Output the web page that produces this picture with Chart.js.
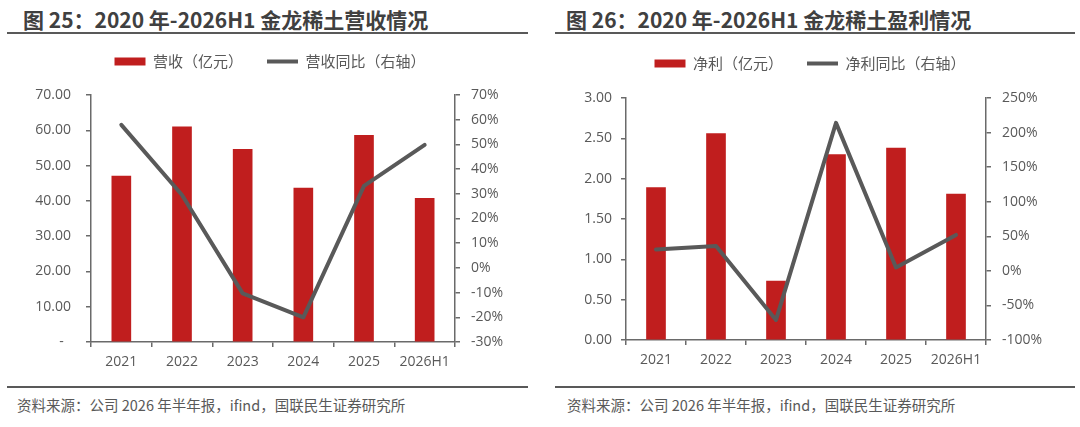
<!DOCTYPE html>
<html>
<head>
<meta charset="utf-8">
<script src="https://cdn.jsdelivr.net/npm/chart.js@4.4.1/dist/chart.umd.min.js"></script>
<style>
  html, body { margin: 0; padding: 0; background: #fff; }
  body { width: 1080px; height: 427px; position: relative; overflow: hidden; font-family: "Noto Sans CJK SC", sans-serif; }
  .title { position: absolute; top: 8px; line-height: 22px; font-size: 21px; font-weight: bold; color: #404040; white-space: nowrap; }
  .rule { position: absolute; height: 2px; background: #595959; }
  .foot { position: absolute; top: 395px; line-height: 20px; font-size: 14.5px; color: #595959; white-space: nowrap; }
  .wrap { position: absolute; }
  canvas { display: block; }
</style>
</head>
<body>
<div class="title" style="left:23px">图 25：2020 年-2026H1 金龙稀土营收情况</div>
<div class="rule" style="left:7px;width:521px;top:32px"></div>
<div class="title" style="left:566px">图 26：2020 年-2026H1 金龙稀土盈利情况</div>
<div class="rule" style="left:555px;width:520px;top:32px"></div>

<div class="wrap" style="left:0;top:30px;width:540px;height:342px"><canvas id="c1" width="540" height="342"></canvas></div>
<div class="wrap" style="left:540px;top:32px;width:540px;height:338px"><canvas id="c2" width="540" height="338"></canvas></div>

<div class="rule" style="left:7px;width:521px;top:386px"></div>
<div class="rule" style="left:555px;width:520px;top:386px"></div>
<div class="foot" style="left:17px">资料来源：公司 2026 年半年报，ifind，国联民生证券研究所</div>
<div class="foot" style="left:567px">资料来源：公司 2026 年半年报，ifind，国联民生证券研究所</div>

<script>
// ---- data ----
const categories = ['2021', '2022', '2023', '2024', '2025', '2026H1'];
const revenue = [47.0, 61.0, 54.6, 43.6, 58.6, 40.7];          // 营收（亿元）
const revenueYoY = [57.9, 29.5, -10.3, -20.0, 33.2, 49.8];     // 营收同比（%）
const profit = [1.89, 2.56, 0.73, 2.30, 2.38, 1.81];           // 净利（亿元）
const profitYoY = [31.0, 36.0, -71.0, 214.0, 5.0, 52.0];       // 净利同比（%）
const seriesNames1 = ['营收（亿元）', '营收同比（右轴）'];
const seriesNames2 = ['净利（亿元）', '净利同比（右轴）'];

const RED = '#C01E1E';
const GRAY = '#595959';
const AXIS = '#6a6a6a';
const TICKFONT = { family: '"Open Sans", "Noto Sans CJK SC", sans-serif', size: 14 };

const fixLegend = {
  id: 'fixLegend',
  beforeLayout(chart, args, opts) {
    const lg = chart.legend;
    if (lg && !lg._patched) {
      const orig = lg.fit;
      lg.fit = function () { orig.call(this); this.height = opts.h; };
      lg._patched = true;
    }
  }
};

function makeChart(id, names, bars, line, cfg) {
  return new Chart(document.getElementById(id), {
    data: {
      labels: categories,
      datasets: [
        { type: 'line', label: names[1], data: line, yAxisID: 'y1', borderColor: GRAY, backgroundColor: GRAY,
          borderWidth: 4, pointRadius: 0, pointHoverRadius: 0, tension: 0, borderCapStyle: 'round', borderJoinStyle: 'round', order: 0 },
        { type: 'bar', label: names[0], data: bars, yAxisID: 'y', backgroundColor: RED, borderWidth: 0,
          barThickness: 19, order: 1 }
      ]
    },
    options: {
      responsive: false,
      animation: false,
      layout: { padding: 0 },
      plugins: {
        fixLegend: { h: cfg.legendH },
        tooltip: { enabled: false },
        legend: {
          position: 'top',
          reverse: true,
          labels: {
            usePointStyle: true,
            pointStyleWidth: 31,
            boxHeight: 8,
            padding: 24,
            color: GRAY,
            font: { family: '"Noto Sans CJK SC", sans-serif', size: 15 },
            generateLabels(chart) {
              const items = Chart.defaults.plugins.legend.labels.generateLabels(chart);
              items.forEach(it => {
                const ds = chart.data.datasets[it.datasetIndex];
                if (ds.type === 'bar') { it.pointStyle = 'rect'; it.lineWidth = 0; it.fillStyle = RED; it.strokeStyle = RED; }
                else { it.pointStyle = 'line'; it.lineWidth = 4; it.strokeStyle = GRAY; }
              });
              return items;
            }
          }
        }
      },
      scales: {
        x: {
          offset: true,
          grid: { display: true, offset: true, drawOnChartArea: false, drawTicks: true, tickLength: 5, color: AXIS, lineWidth: 1.5 },
          border: { display: true, color: AXIS, width: 1.5 },
          ticks: { color: GRAY, font: TICKFONT, padding: 7, maxRotation: 0, autoSkip: false },
          afterFit(s) { s.height = 30; }
        },
        y: {
          position: 'left',
          min: cfg.yMin, max: cfg.yMax,
          grid: { display: true, drawOnChartArea: false, drawTicks: true, tickLength: 5, color: AXIS, lineWidth: 1.5 },
          border: { display: true, color: AXIS, width: 1.5 },
          ticks: { stepSize: cfg.yStep, color: GRAY, font: TICKFONT, padding: cfg.yPad, callback: cfg.yFmt },
          afterFit(s) { s.width = cfg.yW; }
        },
        y1: {
          position: 'right',
          min: cfg.y1Min, max: cfg.y1Max,
          grid: { display: true, drawOnChartArea: false, drawTicks: true, tickLength: 5, color: AXIS, lineWidth: 1.5 },
          border: { display: true, color: AXIS, width: 1.5 },
          ticks: { stepSize: cfg.y1Step, color: GRAY, font: TICKFONT, padding: 11, callback: v => v + '%' },
          afterFit(s) { s.width = cfg.y1W; }
        }
      }
    },
    plugins: [fixLegend]
  });
}

makeChart('c1', seriesNames1, revenue, revenueYoY, {
  legendH: 65, yMin: 0, yMax: 70, yStep: 10, yPad: 15, yW: 91, y1Min: -30, y1Max: 70, y1Step: 10, y1W: 85,
  yFmt: v => v === 0 ? '-  ' : Number(v).toFixed(2)
});
makeChart('c2', seriesNames2, profit, profitYoY, {
  legendH: 66, yMin: 0, yMax: 3, yStep: 0.5, yPad: 9, yW: 86, y1Min: -100, y1Max: 250, y1Step: 50, y1W: 94,
  yFmt: v => Number(v).toFixed(2)
});
</script>
</body>
</html>
